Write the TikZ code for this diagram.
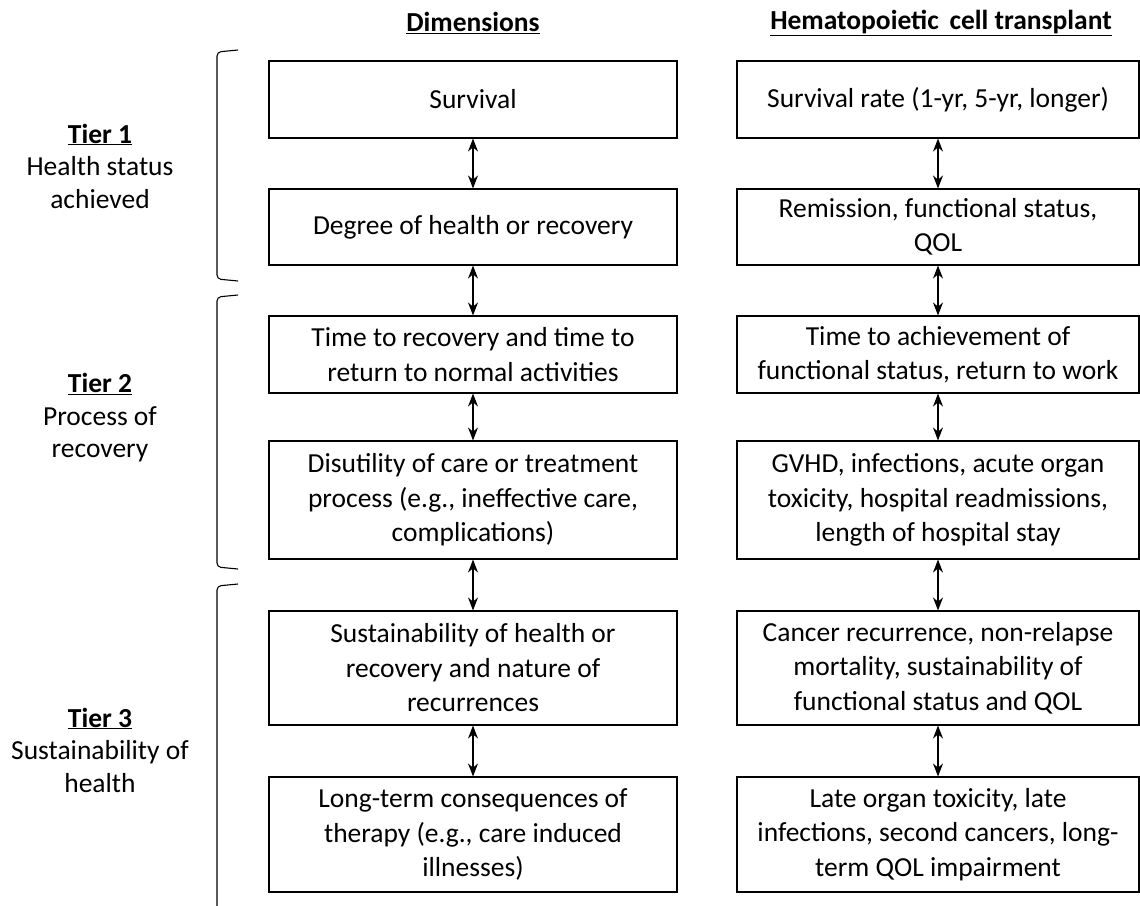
\documentclass[tikz,border=0pt]{standalone}
\usepackage{fontspec}
\setmainfont{Carlito}
\usetikzlibrary{arrows.meta}
\tikzset{
  txt/.style={font=\fontsize{27.5}{34.5}\selectfont, inner sep=0pt, align=center},
  lbox/.style={draw, line width=1.1pt, txt, minimum width=408pt},
  rbox/.style={draw, line width=1.1pt, txt, minimum width=402pt},
  dbl/.style={line width=1.1pt, {Stealth[length=13pt,width=10pt]}-{Stealth[length=13pt,width=10pt]}},
  brace/.style={line width=1.1pt, rounded corners=4pt},
  hdr/.style={font=\fontsize{27.5}{30}\selectfont\bfseries, inner sep=0pt},
  tier/.style={font=\fontsize{27.5}{32.5}\selectfont, align=center, inner sep=0pt}
}
\begin{document}
\begin{tikzpicture}[x=1pt,y=-1pt]
\useasboundingbox (0,0) rectangle (1140,905);
% headers
\node[hdr] (h1) at (473,23) {\underline{Dimensions}};
\node[hdr] (h2) at (941,23) {\underline{Hematopoietic\, cell transplant}};
% left boxes
\node[lbox, minimum height=77pt] (l1) at (473,99.5) {Survival};
\node[lbox, minimum height=76pt] (l2) at (473,227) {Degree of health or recovery};
\node[lbox, minimum height=77pt] (l3) at (473,354.5) {Time to recovery and time to\\return to normal activities};
\node[lbox, minimum height=118pt] (l4) at (473,500) {Disutility of care or treatment\\process (e.g., ineffective care,\\complications)};
\node[lbox, minimum height=114pt] (l5) at (473,668) {Sustainability of health or\\recovery and nature of\\recurrences};
\node[lbox, minimum height=115pt] (l6) at (473,834.5) {Long-term consequences of\\therapy (e.g., care induced\\illnesses)};
% right boxes
\node[rbox, minimum height=77pt] (r1) at (938,99.5) {Survival rate (1-yr, 5-yr, longer)};
\node[rbox, minimum height=76pt] (r2) at (938,227) {Remission, functional status,\\QOL};
\node[rbox, minimum height=77pt] (r3) at (938,354.5) {Time to achievement of\\functional status, return to work};
\node[rbox, minimum height=118pt] (r4) at (938,500) {GVHD, infections, acute organ\\toxicity, hospital readmissions,\\length of hospital stay};
\node[rbox, minimum height=114pt] (r5) at (938,668) {Cancer recurrence, non-relapse\\mortality, sustainability of\\functional status and QOL};
\node[rbox, minimum height=115pt] (r6) at (938,834.5) {Late organ toxicity, late\\infections, second cancers, long-\\term QOL impairment};
% arrows
\foreach \a/\b in {l1/l2,l2/l3,l3/l4,l4/l5,l5/l6,r1/r2,r2/r3,r3/r4,r4/r5,r5/r6}
  \draw[dbl] (\a.south) -- (\b.north);
% braces
\draw[brace] (238,50) -- (217,52) -- (217,279) -- (238,281);
\draw[brace] (238,295) -- (217,297) -- (217,567) -- (238,569);
\draw[brace] (238,584) -- (217,586) -- (217,910);
% tier labels
\node[tier] (t1) at (100,166) {\textbf{\underline{Tier 1}}\\Health status\\achieved};
\node[tier] (t2) at (100,418) {\textbf{\underline{Tier 2}}\\Process of\\recovery};
\node[tier] (t3) at (100,750) {\textbf{\underline{Tier 3}}\\Sustainability of\\health};
\end{tikzpicture}
\end{document}
